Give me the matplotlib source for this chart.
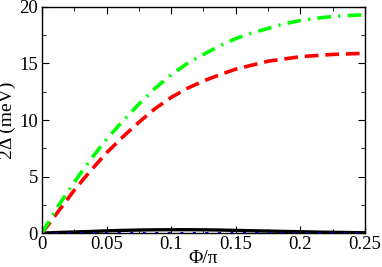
import numpy as np
from matplotlib import pyplot as plt
from matplotlib.ticker import MultipleLocator

# Phi/pi grid and gap values
phi = [0, 0.0125, 0.025, 0.0375, 0.05, 0.0625, 0.075, 0.0875, 0.1, 0.1125, 0.125,
       0.1375, 0.15, 0.1625, 0.175, 0.1875, 0.2, 0.2125, 0.225, 0.2375, 0.25]
green = [0, 2.4, 4.5, 6.5, 8.3, 9.9, 11.4, 12.8, 14.0, 15.0, 15.8,
         16.55, 17.2, 17.7, 18.1, 18.5, 18.8, 19.0, 19.15, 19.25, 19.3]
red = [0, 1.9, 3.8, 5.5, 7.1, 8.5, 9.8, 11.0, 12.0, 12.8, 13.45,
       14.0, 14.5, 14.85, 15.2, 15.4, 15.6, 15.7, 15.8, 15.85, 15.9]
black = [0, 0.05, 0.1, 0.14, 0.2, 0.24, 0.27, 0.29, 0.3, 0.3, 0.29,
         0.27, 0.24, 0.21, 0.18, 0.15, 0.12, 0.09, 0.07, 0.05, 0.03]
blue = [0] * len(phi)

plt.rcParams['font.family'] = ['Liberation Serif', 'DejaVu Serif']

fig = plt.figure(figsize=(3.82, 2.67), dpi=100)
ax = fig.add_axes([0.11, 0.127, 0.845, 0.847])

ax.plot(phi, black, color='black', lw=2.4)
ax.plot(phi, blue, color='#0000ff', lw=2.2, linestyle=(0, (1, 3.1)))
ax.plot(phi, red, color='#ff0000', lw=2.6, linestyle=(0, (3.8, 1.9)))
ax.plot(phi, green, color='#00ff00', lw=2.6, linestyle=(0, (3.8, 2.0, 0.6, 2.0)))

ax.set_xlim(0, 0.25)
ax.set_ylim(0, 20)
ax.set_xticks([0, 0.05, 0.1, 0.15, 0.2, 0.25])
ax.set_xticklabels(['0', '0.05', '0.1', '0.15', '0.2', '0.25'])
ax.xaxis.set_minor_locator(MultipleLocator(0.025))
ax.yaxis.set_major_locator(MultipleLocator(5))
ax.yaxis.set_minor_locator(MultipleLocator(2.5))
ax.tick_params(which='both', direction='in', top=True, right=True, labelsize=13.5)
ax.tick_params(axis='x', pad=2)
ax.tick_params(axis='y', pad=3)
ax.tick_params(which='major', length=5)
ax.tick_params(which='minor', length=3)
for s in ax.spines.values():
    s.set_linewidth(1.0)

ax.set_xlabel('Φ/π', fontsize=14, labelpad=-2)
ax.set_ylabel('2Δ (meV)', fontsize=14, labelpad=2)

fig.savefig('out.png', dpi=100)
